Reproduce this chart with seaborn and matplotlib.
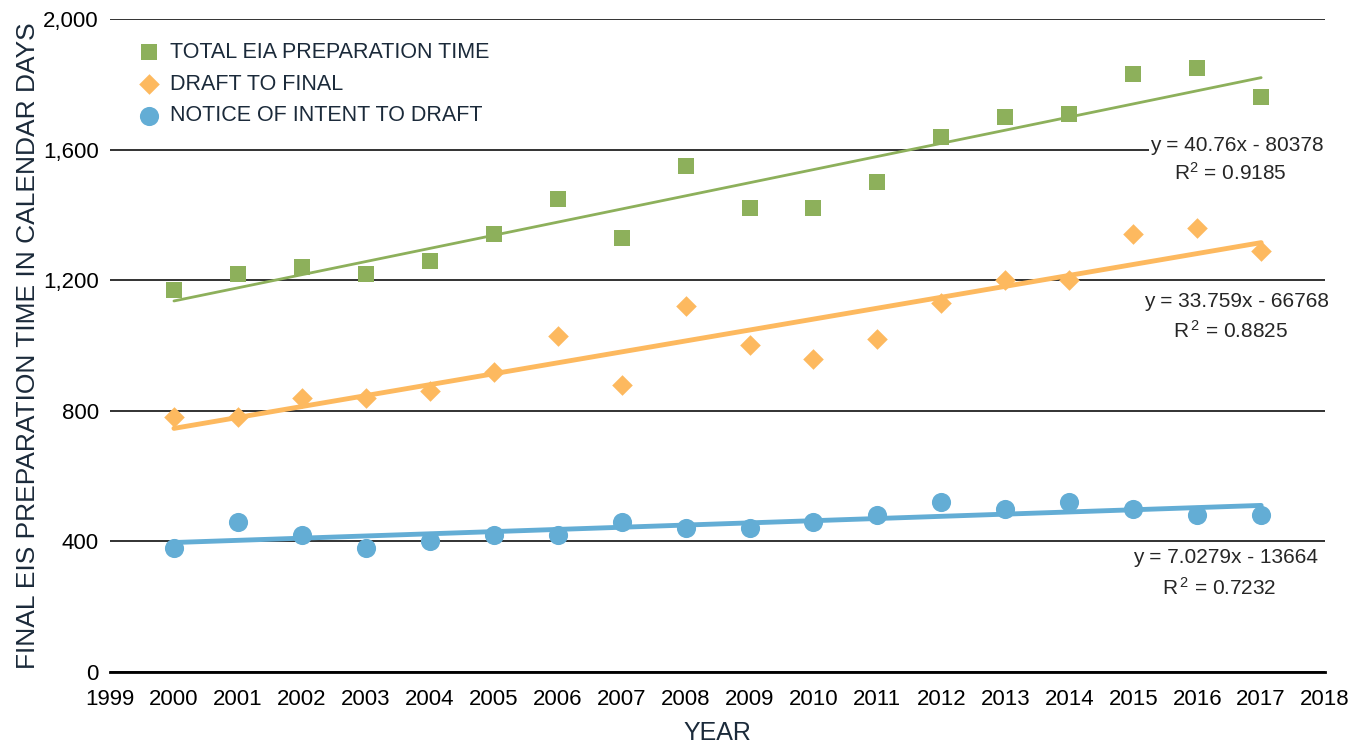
import matplotlib
matplotlib.use("Agg")
import matplotlib.pyplot as plt
import matplotlib.ticker as mticker
import seaborn as sns
import pandas as pd

years = list(range(2000, 2018))
total_eia = [1170, 1220, 1240, 1220, 1260, 1340, 1450, 1330, 1550, 1420,
             1420, 1500, 1640, 1700, 1710, 1830, 1850, 1760]
draft_to_final = [780, 780, 840, 840, 860, 920, 1030, 880, 1120, 1000,
                  960, 1020, 1130, 1200, 1200, 1340, 1360, 1290]
notice_to_draft = [380, 460, 420, 380, 400, 420, 420, 460, 440, 440,
                   460, 480, 520, 500, 520, 500, 480, 480]

series_names = ["TOTAL EIA PREPARATION TIME", "DRAFT TO FINAL", "NOTICE OF INTENT TO DRAFT"]
equations = ["y = 40.76x - 80378", "y = 33.759x - 66768", "y = 7.0279x - 13664"]
r_squared = ["R$^2$ = 0.9185", "R$^{\\,2}$ = 0.8825", "R$^{\\,2}$ = 0.7232"]

colors = ["#8DB05B", "#FDB95F", "#63ADD5"]
markers = ["s", "D", "o"]
marker_sizes = [120, 110, 190]
line_widths = [2.0, 3.5, 3.5]

sns.set_theme(style="white")
plt.rcParams["font.family"] = ["Liberation Sans", "DejaVu Sans"]
plt.rcParams["mathtext.default"] = "regular"

df = pd.DataFrame({
    "year": years * 3,
    "days": total_eia + draft_to_final + notice_to_draft,
    "series": [s for s in series_names for _ in years],
})

fig = plt.figure(figsize=(13.63, 7.44), dpi=100)
ax = fig.add_axes([0.0807, 0.0968, 0.8915, 0.8777])

for name, col, mk, ms, lw in zip(series_names, colors, markers, marker_sizes, line_widths):
    sub = df[df["series"] == name]
    sns.regplot(data=sub, x="year", y="days", ax=ax, scatter=False, ci=None,
                truncate=True, line_kws={"color": col, "lw": lw, "zorder": 3})
    sns.scatterplot(data=sub, x="year", y="days", ax=ax, color=col, marker=mk,
                    s=ms, linewidth=0, label=name, zorder=4)

ax.set_xlim(1999, 2018)
ax.set_ylim(0, 2000)
ax.set_xticks(range(1999, 2019))
ax.set_yticks(range(0, 2001, 400))
ax.yaxis.set_major_formatter(mticker.FuncFormatter(lambda v, p: f"{int(v):,}"))

ax.grid(axis="y", color="#222222", lw=1.3, zorder=1)
ax.grid(axis="x", visible=False)
for side in ["left", "right", "top"]:
    ax.spines[side].set_visible(False)
ax.spines["bottom"].set_color("black")
ax.spines["bottom"].set_linewidth(2)
ax.spines["bottom"].set_zorder(5)
ax.tick_params(axis="x", direction="out", length=8, width=1.3, color="black",
               labelsize=16, labelcolor="black", pad=4)
ax.tick_params(axis="y", length=0, labelsize=16, labelcolor="black", pad=8)

ax.set_xlabel("YEAR", fontsize=18, color="#1b2a3a", labelpad=8)
ax.set_ylabel("FINAL EIS PREPARATION TIME IN CALENDAR DAYS", fontsize=19,
              color="#1b2a3a", labelpad=20)
ax.yaxis.set_label_coords(-0.058, 0.5)

eq_pos = [(2016.62, 1611, 1528), (2016.62, 1136, 1044), (2016.45, 352, 257)]
for (xp, ye, yr), eq, r2 in zip(eq_pos, equations, r_squared):
    ax.text(xp, ye, eq, fontsize=15, ha="center", va="center", zorder=6,
            bbox=dict(facecolor="white", edgecolor="none", pad=1))
    ax.text(xp - 0.1, yr, r2, fontsize=15, ha="center", va="center", zorder=6)

leg = ax.legend(loc="upper left", bbox_to_anchor=(0.014, 0.978), frameon=False,
                fontsize=15.5, handletextpad=0.4, labelspacing=0.5,
                borderaxespad=0, handlelength=1.2)
for t in leg.get_texts():
    t.set_color("#1b2a3a")

fig.savefig("out.png", dpi=100)
